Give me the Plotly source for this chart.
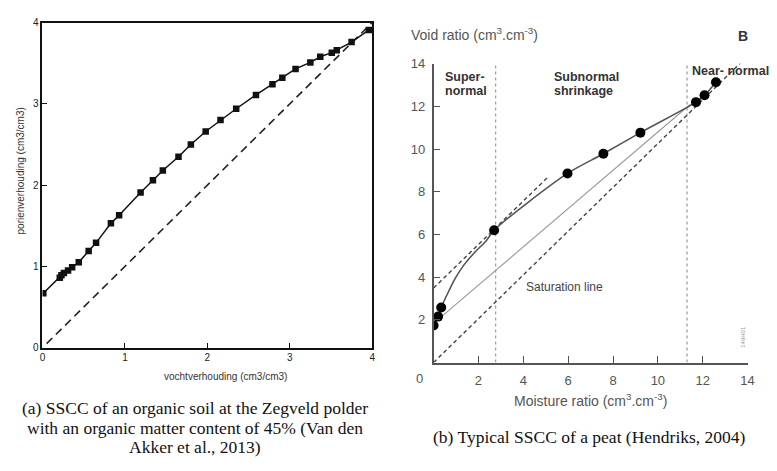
import plotly.graph_objects as go

W, H = 777, 471

# ---------------- Panel (a) data ----------------
a_moist = [0.01, 0.21, 0.23, 0.26, 0.31, 0.36, 0.44, 0.56, 0.65, 0.83, 0.93, 1.19, 1.34, 1.46,
           1.65, 1.80, 1.98, 2.16, 2.35, 2.59, 2.79, 2.91, 3.07, 3.25, 3.37, 3.51, 3.57, 3.75, 3.96]
a_void = [0.67, 0.86, 0.89, 0.92, 0.95, 0.99, 1.05, 1.19, 1.29, 1.53, 1.63, 1.91, 2.06, 2.18,
          2.35, 2.50, 2.66, 2.80, 2.94, 3.11, 3.24, 3.32, 3.43, 3.51, 3.58, 3.63, 3.66, 3.76, 3.91]
a_sat_x = [0.05, 4.0]
a_sat_y = [0.05, 4.0]
a_ticks = [0, 1, 2, 3, 4]

# ---------------- Panel (b) data ----------------
b_moist = [0.0, 0.20, 0.34, 2.70, 5.97, 7.57, 9.22, 11.70, 12.08, 12.59]
b_void = [1.73, 2.15, 2.58, 6.20, 8.86, 9.78, 10.77, 12.20, 12.52, 13.13]
b_curve_x = [0.0, 0.20, 0.34, 0.68, 0.97, 1.34, 1.85, 2.36, 2.70, 5.97, 7.57, 9.22, 11.70, 12.08, 12.59]
b_curve_y = [1.73, 2.15, 2.58, 3.35, 3.95, 4.55, 5.18, 5.72, 6.20, 8.86, 9.78, 10.77, 12.20, 12.52, 13.13]
b_thin_x = [0.30, 11.45]
b_thin_y = [2.10, 12.10]
b_sat_x = [0.0, 13.94]
b_sat_y = [0.0, 14.30]
b_tan_x = [0.0, 5.15]
b_tan_y = [3.49, 8.74]
b_bounds = [2.77, 11.30]
b_ticks = [2, 4, 6, 8, 10, 12, 14]


def px(x):
    return x / W


def py(y):
    return 1 - y / H


fig = go.Figure()

# Panel (a)
fig.add_trace(go.Scatter(x=a_sat_x, y=a_sat_y, mode="lines",
                         line=dict(color="#222", width=1.6, dash="8px,5px"),
                         xaxis="x", yaxis="y", showlegend=False))
fig.add_trace(go.Scatter(x=a_moist, y=a_void, mode="lines+markers",
                         line=dict(color="#111", width=1.5),
                         marker=dict(symbol="square", size=6.5, color="#111"),
                         xaxis="x", yaxis="y", showlegend=False))

# Panel (b)
for xb in b_bounds:
    fig.add_trace(go.Scatter(x=[xb, xb], y=[0, 14], mode="lines",
                             line=dict(color="#888", width=1, dash="dot"),
                             xaxis="x2", yaxis="y2", showlegend=False))
fig.add_trace(go.Scatter(x=b_sat_x, y=b_sat_y, mode="lines",
                         line=dict(color="#444", width=1.4, dash="4px,3px"),
                         xaxis="x2", yaxis="y2", showlegend=False))
fig.add_trace(go.Scatter(x=b_tan_x, y=b_tan_y, mode="lines",
                         line=dict(color="#444", width=1.4, dash="4px,3px"),
                         xaxis="x2", yaxis="y2", showlegend=False))
fig.add_trace(go.Scatter(x=b_thin_x, y=b_thin_y, mode="lines",
                         line=dict(color="#999", width=1.1),
                         xaxis="x2", yaxis="y2", showlegend=False))
fig.add_trace(go.Scatter(x=b_curve_x, y=b_curve_y, mode="lines",
                         line=dict(color="#555", width=1.6, shape="spline", smoothing=0.8),
                         xaxis="x2", yaxis="y2", showlegend=False))
fig.add_trace(go.Scatter(x=b_moist, y=b_void, mode="markers",
                         marker=dict(symbol="circle", size=10, color="#000"),
                         xaxis="x2", yaxis="y2", showlegend=False))

tickfont_a = dict(family="Liberation Sans, Arial", size=10, color="#222")
tickfont_b = dict(family="Liberation Sans, Arial", size=13, color="#555")

fig.update_layout(
    width=W, height=H,
    margin=dict(l=0, r=0, t=0, b=0),
    paper_bgcolor="white", plot_bgcolor="white",
    xaxis=dict(domain=[px(40), px(374)], range=[0, 4], tickvals=a_ticks,
               showline=True, mirror=True, linecolor="#111", linewidth=1.6,
               ticks="inside", ticklen=5, tickcolor="#111", showgrid=False, zeroline=False,
               tickfont=tickfont_a, anchor="y", fixedrange=True),
    yaxis=dict(domain=[py(349.6), py(16)], range=[0, 4], tickvals=a_ticks,
               showline=True, mirror=True, linecolor="#111", linewidth=1.6,
               ticks="inside", ticklen=5, tickcolor="#111", showgrid=False, zeroline=False,
               tickfont=tickfont_a, anchor="x", fixedrange=True),
    xaxis2=dict(domain=[px(436.2), px(754.3)], range=[0, 14], tickvals=b_ticks,
                showline=True, linecolor="#555", linewidth=1.5,
                ticks="inside", ticklen=7, tickcolor="#555", showgrid=False, zeroline=False,
                tickfont=tickfont_b, ticklabelstandoff=5, anchor="y2", fixedrange=True),
    yaxis2=dict(domain=[py(364.8), py(58.2)], range=[0, 14], tickvals=b_ticks,
                showline=True, linecolor="#555", linewidth=1.5,
                ticks="inside", ticklen=7, tickcolor="#555", showgrid=False, zeroline=False,
                tickfont=tickfont_b, ticklabelstandoff=4, anchor="x2", fixedrange=True),
)

ann = []


def add_text(text, x, y, size, color="#222", family="Liberation Sans, Arial", xanchor="center",
             angle=0, bold=False):
    if bold:
        text = "<b>" + text + "</b>"
    ann.append(dict(text=text, x=px(x), y=py(y), xref="paper", yref="paper",
                    xanchor=xanchor, yanchor="middle", showarrow=False, textangle=angle,
                    font=dict(family=family, size=size, color=color)))


# Panel (a) titles
add_text("vochtverhouding (cm3/cm3)", 225, 379, 10, "#333")
add_text("porienverhouding (cm3/cm3)", 18, 168, 10, "#333", angle=-90)

# Panel (b) titles and labels
add_text("Void ratio (cm<sup>3</sup>.cm<sup>-3</sup>)", 411, 28, 14, "#555", xanchor="left")
add_text("B", 750, 30, 14, "#333", bold=True)
add_text("Moisture ratio (cm<sup>3</sup>.cm<sup>-3</sup>)", 595, 403, 14, "#555")
add_text("0", 422, 381, 13, "#555")
add_text("Super-", 446, 72, 12.5, "#333", xanchor="left", bold=True)
add_text("normal", 446, 86, 12.5, "#333", xanchor="left", bold=True)
add_text("Subnormal", 556, 72, 12.5, "#333", xanchor="left", bold=True)
add_text("shrinkage", 556, 86, 12.5, "#333", xanchor="left", bold=True)
add_text("Near- normal", 696, 66, 12.5, "#333", xanchor="left", bold=True)
add_text("Saturation line", 528, 287, 12, "#444", xanchor="left")
add_text("149H01", 750, 338, 6, "#999", angle=-90)

# Captions
serif = "Liberation Serif, Times New Roman"
add_text("(a) SSCC of an organic soil at the Zegveld polder", 194, 411, 17.5, "#111", serif)
add_text("with an organic matter content of 45% (Van den", 194, 432, 17.5, "#111", serif)
add_text("Akker et al., 2013)", 194, 452, 17.5, "#111", serif)
add_text("(b) Typical SSCC of a peat (Hendriks, 2004)", 594, 441, 17.5, "#111", serif)

fig.update_layout(annotations=ann)

fig.write_html("out.html")
